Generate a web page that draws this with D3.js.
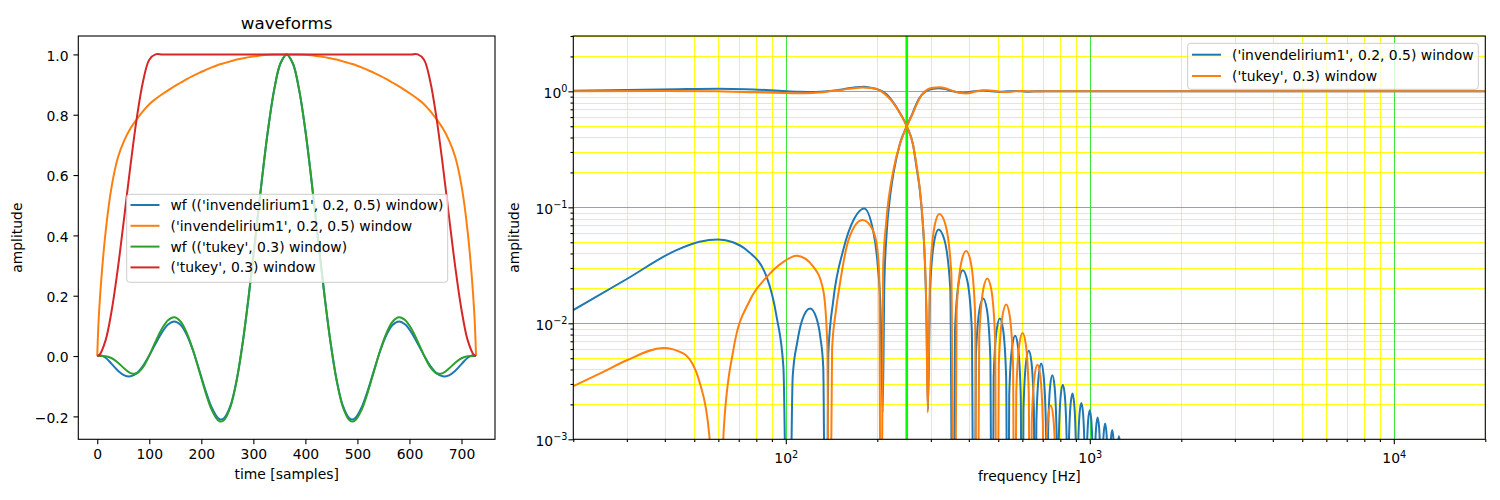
<!DOCTYPE html>
<html><head><meta charset="utf-8">
<script src="https://cdn.jsdelivr.net/npm/d3@7"></script>
<style>
body{margin:0;background:#fff;}
svg{font-family:"DejaVu Sans",sans-serif;}
</style></head><body>
<svg id="chart" width="1500" height="500"></svg>
<script>
// ---------------- data: left panel (waveforms) ----------------
const sampleIndex = [0,4,16,28,40,52,64,76,88,100,112,124,136,148,160,172,184,196,208,220,232,238,244,256,268,280,292,304,316,328,340,352,364,
  376,388,400,412,424,436,448,460,472,484,490,496,508,520,532,544,556,568,580,592,604,616,628,640,652,664,676,688,700,712,724,728];
const wfInvend = [0,0.0032,-0.0056,-0.0267,-0.0489,-0.0639,-0.0673,-0.0567,-0.0326,0.0019,0.0407,0.0775,0.1045,0.1149,0.1038,0.0707,0.0185,-0.0463,-0.1133,-0.1705,-0.2053,-0.2103,-0.2055,-0.1646,-0.0790,0.0493,0.2108,0.3922,0.5776,0.7470,0.8823,0.9698,1,
  0.9698,0.8823,0.7470,0.5776,0.3922,0.2108,0.0493,-0.0790,-0.1646,-0.2055,-0.2103,-0.2053,-0.1705,-0.1133,-0.0463,0.0185,0.0707,0.1038,0.1149,0.1045,0.0775,0.0407,0.0019,-0.0326,-0.0567,-0.0673,-0.0639,-0.0489,-0.0267,-0.0056,0.0032,0];
const winInvend = [0,0.16,0.41,0.565,0.66,0.715,0.755,0.785,0.812,0.835,0.852,0.867,0.881,0.894,0.906,0.918,0.929,0.939,0.948,0.957,0.965,0.968,0.971,0.977,0.983,0.987,0.991,0.994,0.997,0.999,1.0,1.0,1.0,
  1.0,1.0,0.999,0.997,0.994,0.991,0.987,0.983,0.977,0.971,0.968,0.965,0.957,0.948,0.939,0.929,0.918,0.906,0.894,0.881,0.867,0.852,0.835,0.812,0.785,0.755,0.715,0.66,0.565,0.41,0.16,0];
const wfTukey = [0,0.0001,-0.0007,-0.0073,-0.0219,-0.0414,-0.0565,-0.0570,-0.0366,0.0023,0.0478,0.0894,0.1186,0.1285,0.1146,0.0770,0.0199,-0.0493,-0.1195,-0.1782,-0.2127,-0.2173,-0.2116,-0.1685,-0.0804,0.0499,0.2127,0.3946,0.5793,0.7477,0.8823,0.9698,1,
  0.9698,0.8823,0.7477,0.5793,0.3946,0.2127,0.0499,-0.0804,-0.1685,-0.2116,-0.2173,-0.2127,-0.1782,-0.1195,-0.0493,0.0199,0.0770,0.1146,0.1285,0.1186,0.0894,0.0478,0.0023,-0.0366,-0.0570,-0.0565,-0.0414,-0.0219,-0.0073,-0.0007,0.0001,0];
const winTukey = [0,0.0033,0.0521,0.1536,0.2958,0.4626,0.6336,0.7889,0.9104,0.9824,1,1,1,1,1,1,1,1,1,1,1,1,1,1,1,1,1,1,1,1,1,1,1,
  1,1,1,1,1,1,1,1,1,1,1,1,1,1,1,1,1,1,1,1,1,1,0.9824,0.9104,0.7889,0.6336,0.4626,0.2958,0.1536,0.0521,0.0033,0];
const leftXTicks = [0,100,200,300,400,500,600,700];
const leftYTicks = [-0.2,0,0.2,0.4,0.6,0.8,1.0];
const leftLegendLabels = ["wf (('invendelirium1', 0.2, 0.5) window)","('invendelirium1', 0.2, 0.5) window","wf (('tukey', 0.3) window)","('tukey', 0.3) window"];

// ---------------- data: right panel (frequency responses) ----------------
const lpInvFreq = [20,30,44,60,74,86,98,110,120,130,140,155,170,181,194,208,215,226,238,250,262,270,276,282,286,290,293.5,
  298.4,308.2,318,332.8,347.6,355, 360.4,371.2,382,395.6,409.2,416, 422,434,446,458.4,470.8,477, 482.8,494.4,506,518.4,530.8,537,
  543.2,555.6,568,580.4,592.8,599, 605.2,617.6,630,642.4,654.8,661, 667.2,679.6,692,704.4,716.8,723, 729,741,753,765.4,777.8,784,
  790.2,802.6,815,827.4,839.8,846, 852.2,864.6,877,889,901,907, 913.2,925.6,938,950.4,962.8,969, 975.2,987.6,1000,1012,1024,1030,
  1036.2,1048.6,1061,1073.4,1085.8,1092, 1098.2,1110.6,1123,1135.4,1147.8,1154, 1160.2,1172.6,1185,1197.4,1209.8,1216, 1222,1235,1247,1259,1272,1278];
const lpInvAmp = [1.013,1.027,1.043,1.052,1.044,1.026,1.005,0.990,0.987,0.991,1.008,1.045,1.085,1.098,1.065,1.0,0.94,0.80,0.644,0.5,0.35,0.21,0.141,0.075,0.04,0.013,0.0018,
  0.020,0.052,0.0645,0.052,0.020,1e-5, 0.0089,0.0232,0.0287,0.0232,0.0089,1e-5, 0.0051,0.0133,0.0164,0.0133,0.0051,1e-5, 0.0034,0.0089,0.011,0.0089,0.0034,1e-5,
  0.0024,0.0063,0.0078,0.0063,0.0024,1e-5, 0.0018,0.0047,0.0058,0.0047,0.0018,1e-5, 0.0014,0.0036,0.0045,0.0036,0.0014,1e-5, 0.0011,0.0029,0.00357,0.0029,0.0011,1e-5,
  0.00092,0.0024,0.00296,0.0024,0.00092,1e-5, 0.00077,0.0020,0.00248,0.0020,0.00077,1e-5, 0.00064,0.00167,0.00206,0.00167,0.00064,1e-5, 0.00055,0.00144,0.00178,0.00144,0.00055,1e-5,
  0.00048,0.00125,0.00154,0.00125,0.00048,1e-5, 0.00042,0.00111,0.00137,0.00111,0.00042,1e-5, 0.00037,0.00097,0.0012,0.00097,0.00037,1e-5, 0.00033,0.00086,0.00106,0.00086,0.00033,1e-5];
const hpInvFreq = [20,30,43.7,52,60,67,74.3,86.5,93.3,98.2,102,105.4,109,113,120.2,126,130,132.8,135.5,138,143.3,154.5,168,181,194,201,205,208.3,211,214.7,
  220,226,237.6,250,262,270,280,292,305,318,335,355,382,416,446,477,506,537,568,599,630,661,700,20000];
const hpInvAmp = [0.013,0.0241,0.0428,0.0505,0.0528,0.050,0.0428,0.0251,0.01135,0.0042,1e-5,0.0035,0.0068,0.0105,0.0134,0.0112,0.0075,0.0042,1e-5,0.0055,0.0158,0.0428,0.080,0.0978,0.062,0.030,0.013,0.0017,0.022,0.06,
  0.12,0.196,0.356,0.5,0.66,0.80,0.93,1.02,1.055,1.064,1.045,1.0,0.971,1.0,1.016,1.0,0.989,1.0,1.008,1.0,0.994,1.0,1.0,1.0];
const lpTukFreq = [20,39.5,59,67,76,86.5,98,108.6,123,133,139,151,158,168,179,190,199,206,214,226,238,250,262,270,276,282,286,290,293,
  298.4,309.2,320,335.2,350.4,358, 364.8,378.4,392,405.6,419.2,426, 432.8,446.4,460,474,488,495, 502.2,516.6,531,545,559,566,
  573,587,601,615.4,629.8,637, 644.2,658.6,673,687,701,708, 715.2,729.6,744,757.6,771.2,778];
const lpTukAmp = [1.003,1.006,1.0,0.994,0.984,0.975,0.966,0.962,0.969,0.981,1.0,1.022,1.045,1.065,1.078,1.07,1.049,1.0,0.925,0.79,0.64,0.5,0.35,0.22,0.145,0.078,0.042,0.013,0.0017,
  0.027,0.0707,0.0874,0.0707,0.027,1e-5, 0.013,0.0341,0.0421,0.0341,0.013,1e-5, 0.0075,0.0197,0.0244,0.0197,0.0075,1e-5, 0.0045,0.0117,0.0145,0.0117,0.0045,1e-5,
  0.00256,0.0067,0.00826,0.0067,0.00256,1e-5, 0.00136,0.00356,0.0044,0.00356,0.00136,1e-5, 0.00061,0.00159,0.00196,0.00159,0.00061,1e-5];
const hpTukFreq = [20,25,30,39.5,46,52.2,56,59,62.5,67.2,76.2,86.5,98.2,108.6,123.3,132.8,137,139,142,146,150.7,158.5,168,178.6,190,199,203,205.6,209,214,
  226,238,250,262,270,280,292,305,320,340,358,392,426,460,495,531,566,601,637,673,708,20000];
const hpTukAmp = [0.00287,0.0038,0.0048,0.00613,0.0055,0.00303,0.0011,1e-5,0.0012,0.00586,0.0158,0.025,0.0339,0.0382,0.0307,0.0193,0.0065,1e-5,0.006,0.0125,0.022,0.0455,0.068,0.0776,0.069,0.0488,0.025,1e-5,0.03,0.075,
  0.21,0.36,0.5,0.65,0.78,0.93,1.035,1.075,1.087,1.05,1.0,0.958,1.0,1.024,1.0,0.986,1.0,1.008,1.0,0.996,1.0,1.0];
const rightXMajor = [100,1000,10000];
const rightXMinor = [20,30,40,50,60,70,80,90,200,300,400,500,600,700,800,900,2000,3000,4000,5000,6000,7000,8000,9000,20000];
const rightYMajor = [0.001,0.01,0.1,1];
const rightYMinor = [0.002,0.003,0.004,0.005,0.006,0.007,0.008,0.009,0.02,0.03,0.04,0.05,0.06,0.07,0.08,0.09,0.2,0.3,0.4,0.5,0.6,0.7,0.8,0.9,2,3];
const cutoffFreq = [250];
const rightLegendLabels = ["('invendelirium1', 0.2, 0.5) window","('tukey', 0.3) window"];

// ---------------- drawing ----------------
const C = {blue:"#1f77b4", orange:"#ff7f0e", green:"#2ca02c", red:"#d62728"};
const svg = d3.select("#chart");
const FS = "13.9px";
const L = {x0:78.3, x1:495, y0:36, y1:439.3};
const R = {x0:573.3, x1:1485.3, y0:36, y1:439.3};
const snap = v => Math.round(v) + 0.5;

const defs = svg.append("defs");
defs.append("clipPath").attr("id","clipL").append("rect").attr("x",L.x0).attr("y",L.y0).attr("width",L.x1-L.x0).attr("height",L.y1-L.y0);
defs.append("clipPath").attr("id","clipR").append("rect").attr("x",R.x0).attr("y",R.y0).attr("width",R.x1-R.x0).attr("height",R.y1-R.y0);

function styleAxis(g){
  g.attr("font-family",null).attr("font-size",null);
  g.select(".domain").remove();
  g.selectAll(".tick line").attr("stroke","#000").attr("stroke-width",1.1);
  g.selectAll(".tick text").attr("fill","#000").style("font-size",FS);
}

// ---- left panel ----
const xL = d3.scaleLinear().domain([-36.4,764.4]).range([L.x0,L.x1]);
const yL = d3.scaleLinear().domain([-0.276,1.061]).range([L.y1,L.y0]);

const leftSeries = [
  {vals:wfInvend, color:C.blue},
  {vals:winInvend, color:C.orange},
  {vals:wfTukey, color:C.green},
  {vals:winTukey, color:C.red}
];
const lineL = d3.line().x(d=>xL(d[0])).y(d=>yL(d[1])).curve(d3.curveCatmullRom.alpha(0.5));
const gL = svg.append("g").attr("clip-path","url(#clipL)");
leftSeries.forEach(s=>{
  gL.append("path").datum(d3.zip(sampleIndex,s.vals)).attr("d",lineL)
    .attr("fill","none").attr("stroke",s.color).attr("stroke-width",2).attr("stroke-linejoin","round");
});
svg.append("rect").attr("x",L.x0).attr("y",L.y0).attr("width",L.x1-L.x0).attr("height",L.y1-L.y0)
  .attr("fill","none").attr("stroke","#000").attr("stroke-width",1.1);

const gxL = svg.append("g").attr("transform",`translate(0,${L.y1})`)
  .call(d3.axisBottom(xL).tickValues(leftXTicks).tickSize(4.86).tickPadding(4.9).tickFormat(d3.format("d")));
styleAxis(gxL);
gxL.selectAll(".tick text").attr("y",20).attr("dy",null);
const gyL = svg.append("g").attr("transform",`translate(${L.x0},0)`)
  .call(d3.axisLeft(yL).tickValues(leftYTicks).tickSize(4.86).tickPadding(4.86).tickFormat(d3.format(".1f")));
styleAxis(gyL);
gyL.selectAll(".tick text").attr("dy","0.42em");

svg.append("text").attr("x",(L.x0+L.x1)/2).attr("y",28.5).attr("text-anchor","middle").style("font-size","16.7px").text("waveforms");
svg.append("text").attr("x",(L.x0+L.x1)/2).attr("y",478.5).attr("text-anchor","middle").style("font-size",FS).text("time [samples]");
svg.append("text").attr("transform",`translate(22,${(L.y0+L.y1)/2}) rotate(-90)`).attr("text-anchor","middle").style("font-size",FS).text("amplitude");

// left legend
const legL = svg.append("g");
legL.append("rect").attr("x",126.7).attr("y",194.3).attr("width",321).attr("height",88).attr("rx",3)
  .attr("fill","#fff").attr("fill-opacity",0.8).attr("stroke","#cccccc").attr("stroke-width",1);
leftLegendLabels.forEach((lab,i)=>{
  const yy = 205 + i*20.8;
  legL.append("line").attr("x1",130.5).attr("x2",159.5).attr("y1",yy).attr("y2",yy).attr("stroke",leftSeries[i].color).attr("stroke-width",2);
  legL.append("text").attr("x",170.5).attr("y",yy+5).style("font-size",FS).text(lab);
});

// ---- right panel ----
const xR = d3.scaleLog().domain([20,20000]).range([R.x0,R.x1]);
const yR = d3.scaleLog().domain([1e-3,3]).range([R.y1,R.y0]);

const gridR = svg.append("g").attr("clip-path","url(#clipR)");
function vgrid(f,color,w){ gridR.append("line").attr("x1",snap(xR(f))).attr("x2",snap(xR(f))).attr("y1",R.y0).attr("y2",R.y1).attr("stroke",color).attr("stroke-width",w); }
function hgrid(v,color,w){ gridR.append("line").attr("x1",R.x0).attr("x2",R.x1).attr("y1",snap(yR(v))).attr("y2",snap(yR(v))).attr("stroke",color).attr("stroke-width",w); }
rightXMinor.forEach(f=>vgrid(f,"#ffff1a",1));
rightYMinor.forEach(v=>hgrid(v,"#ffff1a",1));
rightXMajor.forEach(f=>vgrid(f,"#3ce63c",1));
rightYMajor.forEach(v=>hgrid(v,"#3ce63c",1));
cutoffFreq.forEach(f=>gridR.append("line").attr("x1",xR(f)).attr("x2",xR(f)).attr("y1",R.y0).attr("y2",R.y1).attr("stroke","#00ff00").attr("stroke-width",2.6));

const lineR = d3.line().x(d=>xR(d[0])).y(d=>yR(d[1])).curve(d3.curveMonotoneX);
const rightSeries = [
  {f:lpInvFreq, a:lpInvAmp, color:C.blue},
  {f:hpInvFreq, a:hpInvAmp, color:C.blue},
  {f:lpTukFreq, a:lpTukAmp, color:C.orange},
  {f:hpTukFreq, a:hpTukAmp, color:C.orange}
];
const gR = svg.append("g").attr("clip-path","url(#clipR)");
rightSeries.forEach(s=>{
  gR.append("path").datum(d3.zip(s.f,s.a)).attr("d",lineR)
    .attr("fill","none").attr("stroke",s.color).attr("stroke-width",2).attr("stroke-linejoin","round");
});
svg.append("rect").attr("x",R.x0).attr("y",R.y0).attr("width",R.x1-R.x0).attr("height",R.y1-R.y0)
  .attr("fill","none").attr("stroke","#000").attr("stroke-width",1.1);

// right x axis
const gxRmin = svg.append("g").attr("transform",`translate(0,${R.y1})`)
  .call(d3.axisBottom(xR).tickValues(rightXMinor).tickSize(2.8).tickFormat(""));
styleAxis(gxRmin);
const gxR = svg.append("g").attr("transform",`translate(0,${R.y1})`)
  .call(d3.axisBottom(xR).tickValues(rightXMajor).tickSize(4.86).tickFormat(""));
styleAxis(gxR);
const expFmt = d3.format("d");
gxR.selectAll(".tick text").each(function(d){
  const t = d3.select(this); t.text(null).attr("y",24).attr("dy",null).attr("text-anchor","middle");
  t.append("tspan").text("10");
  t.append("tspan").attr("dy",-5.6).style("font-size","9.7px").text(expFmt(Math.round(Math.log10(d))));
});
// right y axis
const gyRmin = svg.append("g").attr("transform",`translate(${R.x0},0)`)
  .call(d3.axisLeft(yR).tickValues(rightYMinor).tickSize(2.8).tickFormat(""));
styleAxis(gyRmin);
const gyR = svg.append("g").attr("transform",`translate(${R.x0},0)`)
  .call(d3.axisLeft(yR).tickValues(rightYMajor).tickSize(4.86).tickPadding(1).tickFormat(""));
styleAxis(gyR);
gyR.selectAll(".tick text").each(function(d){
  const t = d3.select(this); t.text(null).attr("y",6.5).attr("dy",null).attr("text-anchor","end");
  t.append("tspan").text("10");
  t.append("tspan").attr("dy",-6.5).style("font-size","9.7px").text(expFmt(Math.round(Math.log10(d))));
});

svg.append("text").attr("x",(R.x0+R.x1)/2).attr("y",481).attr("text-anchor","middle").style("font-size",FS).text("frequency [Hz]");
svg.append("text").attr("transform",`translate(518.5,${(R.y0+R.y1)/2}) rotate(-90)`).attr("text-anchor","middle").style("font-size",FS).text("amplitude");

// right legend
const legR = svg.append("g");
legR.append("rect").attr("x",1187.7).attr("y",43.3).attr("width",290.6).attr("height",46).attr("rx",3)
  .attr("fill","#fff").attr("fill-opacity",0.8).attr("stroke","#cccccc").attr("stroke-width",1);
rightLegendLabels.forEach((lab,i)=>{
  const yy = 54.7 + i*21.3;
  legR.append("line").attr("x1",1192).attr("x2",1221).attr("y1",yy).attr("y2",yy).attr("stroke",i===0?C.blue:C.orange).attr("stroke-width",2);
  legR.append("text").attr("x",1232).attr("y",yy+5).style("font-size",FS).text(lab);
});
</script>
</body></html>
